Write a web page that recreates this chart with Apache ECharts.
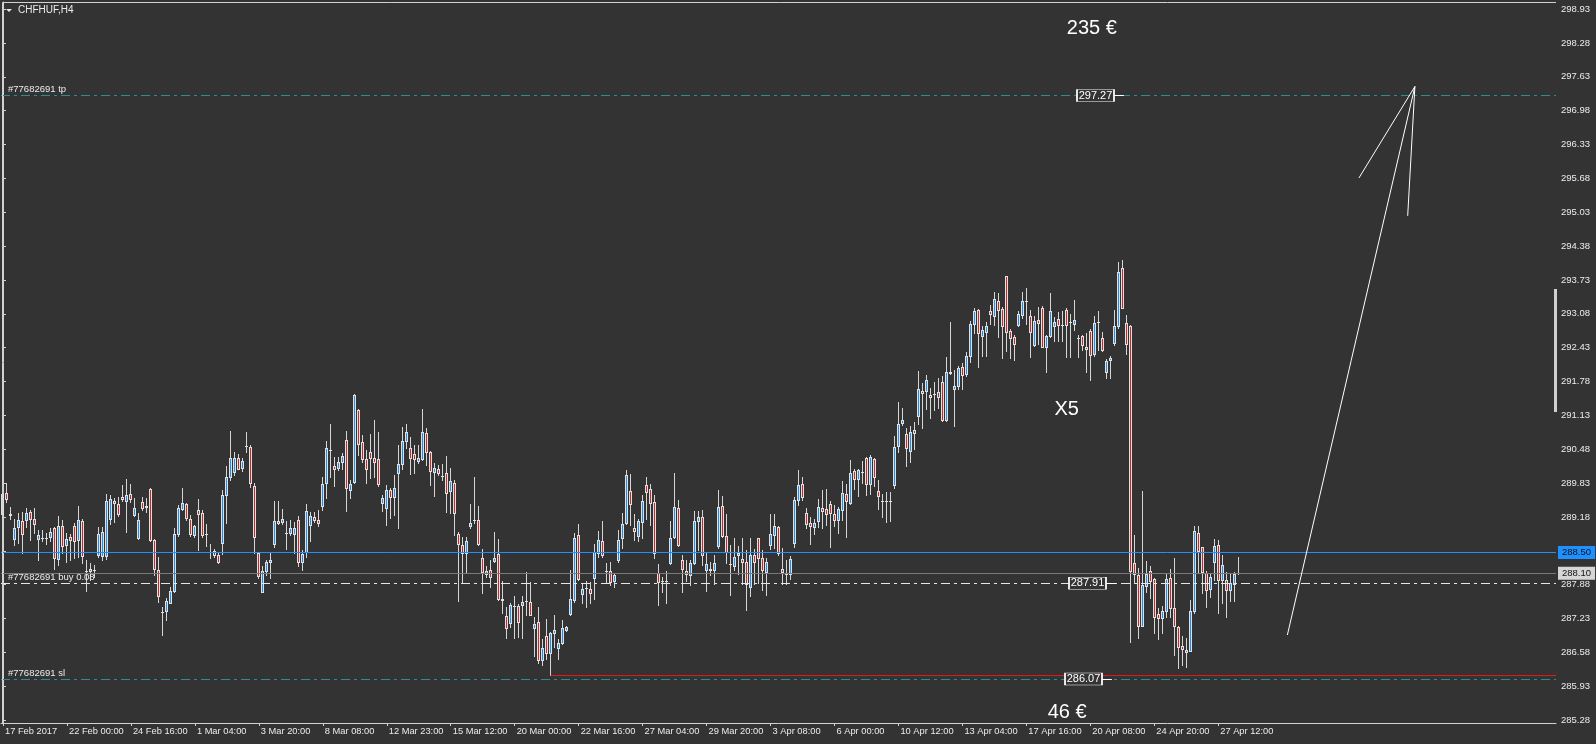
<!DOCTYPE html>
<html>
<head>
<meta charset="utf-8">
<script src="https://cdn.jsdelivr.net/npm/echarts@6/dist/echarts.min.js"></script>
<style>
html,body{margin:0;padding:0;background:#333333;overflow:hidden;}
#c{width:1596px;height:744px;}
</style>
</head>
<body>
<div id="c"></div>
<script>
// ---------------- DATA ----------------
const symbolName = 'CHFHUF,H4';
const tickLabels = ["17 Feb 2017","22 Feb 00:00","24 Feb 16:00","1 Mar 04:00","3 Mar 20:00","8 Mar 08:00","12 Mar 23:00","15 Mar 12:00","20 Mar 00:00","22 Mar 16:00","27 Mar 04:00","29 Mar 20:00","3 Apr 08:00","6 Apr 00:00","10 Apr 12:00","13 Apr 04:00","17 Apr 16:00","20 Apr 08:00","24 Apr 20:00","27 Apr 12:00"];
const barsPerLabel = 16;
const priceTicks = [285.28,285.93,286.58,287.23,287.88,289.18,289.83,290.48,291.13,291.78,292.43,293.08,293.73,294.38,295.03,295.68,296.33,296.98,297.63,298.28,298.93];
const hiddenPriceTicks = [288.53];
// H4 bars: [open, high, low, close]
const ohlc = [
[289.24,289.73,289.15,289.63],[289.65,289.83,289.47,289.52],[289.22,289.37,289.15,289.23],[288.75,289.15,288.64,288.96],
[288.98,289.25,288.69,289.12],[289.11,289.28,288.48,288.85],[289.13,289.35,288.99,289.25],[289.27,289.31,288.74,289.15],
[289.15,289.35,288.87,289.04],[288.75,288.94,288.35,288.83],[288.77,288.94,288.71,288.77],[288.77,288.87,288.67,288.78],
[288.79,288.96,288.71,288.90],[288.96,288.99,288.19,288.40],[288.37,289.19,288.26,289.01],[289.00,289.12,288.48,288.62],
[288.65,288.87,288.32,288.76],[288.80,288.85,288.35,288.73],[289.01,289.06,288.39,288.71],[288.74,289.39,288.42,289.13],
[289.11,289.15,288.30,288.43],[288.15,288.35,287.76,288.15],[288.15,288.30,287.97,288.19],[288.16,288.26,288.03,288.17],
[288.46,288.99,288.42,288.85],[288.43,288.99,288.35,288.89],[288.43,289.63,288.37,289.49],[289.15,289.60,289.04,289.52],
[289.49,289.54,289.09,289.44],[289.42,289.56,289.19,289.23],[289.56,289.79,289.49,289.52],[289.49,289.90,288.90,289.61],
[289.63,289.81,289.47,289.52],[289.22,289.54,289.19,289.35],[288.77,289.25,288.75,289.13],[289.47,289.57,289.31,289.35],
[289.37,289.54,289.28,289.40],[289.71,289.73,288.71,288.73],[288.73,288.75,288.07,288.19],[288.17,288.42,287.55,287.66],
[287.36,287.46,286.91,287.36],[287.37,287.62,287.21,287.57],[287.53,287.84,287.52,287.76],[287.76,288.96,287.75,288.85],
[288.85,289.41,288.81,289.35],[289.33,289.73,289.31,289.44],[289.42,289.44,289.13,289.17],[289.15,289.22,288.81,288.86],
[288.83,289.03,288.80,289.01],[289.31,289.52,288.55,289.23],[289.25,289.31,288.80,288.83],[288.85,289.04,288.62,288.85],
[288.51,288.66,288.39,288.51],[288.53,288.56,288.42,288.46],[288.45,288.48,288.30,288.32],[288.69,289.70,288.47,289.61],
[289.61,290.15,289.06,289.94],[289.95,290.83,289.89,290.32],[290.04,290.43,289.99,290.31],[290.31,290.39,290.10,290.11],
[290.13,290.31,290.07,290.25],[290.54,290.81,290.43,290.54],[290.52,290.56,289.76,289.83],[289.77,289.83,288.48,288.79],
[288.48,288.49,288.00,288.05],[287.75,288.23,287.75,288.15],[288.15,288.35,288.07,288.31],[288.31,288.50,288.00,288.35],
[288.67,289.49,288.61,289.10],[289.10,289.49,289.04,289.06],[289.08,289.33,289.04,289.15],[288.88,289.11,288.56,288.88],
[288.88,289.12,288.83,288.96],[288.85,289.09,288.48,288.96],[289.13,289.19,288.23,288.32],[288.32,288.55,288.17,288.47],
[288.51,289.43,288.42,289.30],[289.02,289.28,288.71,289.20],[289.18,289.27,289.09,289.12],[289.13,289.31,289.01,289.06],
[289.40,289.94,289.31,289.81],[289.83,290.63,289.54,290.50],[290.47,290.96,289.95,290.46],[290.16,290.34,289.77,290.11],
[290.13,290.34,290.08,290.24],[290.24,290.40,290.11,290.36],[290.65,290.83,289.30,289.73],[289.70,289.89,289.54,289.81],
[289.86,291.54,289.84,291.53],[291.23,291.25,290.37,290.59],[290.61,290.75,290.24,290.30],[290.29,290.47,289.84,290.11],
[290.42,290.77,289.92,290.32],[290.32,291.04,289.95,290.24],[290.29,290.81,289.77,289.81],[289.44,289.60,289.30,289.55],
[289.36,289.79,289.03,289.70],[289.70,289.73,289.17,289.56],[289.57,289.99,289.22,289.73],[290.02,290.56,288.96,290.19],
[290.20,290.91,290.11,290.64],[290.64,290.96,290.50,290.81],[290.50,290.72,290.00,290.32],[290.39,290.56,290.03,290.29],
[290.26,290.56,290.21,290.31],[290.29,291.25,290.27,290.81],[290.79,290.89,290.18,290.42],[290.42,290.45,289.79,290.07],
[290.05,290.22,289.58,290.13],[290.11,290.18,289.99,290.02],[289.97,290.20,289.89,289.97],[290.02,290.35,289.28,289.65],
[289.67,290.13,289.25,289.87],[289.84,289.89,288.83,289.25],[288.85,288.90,287.57,288.67],[288.65,288.80,287.92,288.49],
[288.48,288.80,288.11,288.71],[289.00,289.43,288.96,289.07],[289.12,289.94,289.07,289.12],[289.13,289.39,288.64,288.67],
[288.39,288.56,287.73,288.13],[288.08,288.23,288.03,288.14],[288.16,288.35,287.83,288.03],[288.34,288.89,288.32,288.40],
[288.47,288.75,287.59,287.60],[287.60,287.95,287.33,287.59],[287.28,287.46,286.85,287.04],[287.15,287.52,287.07,287.50],
[287.48,287.66,286.85,287.47],[287.47,287.51,286.88,287.16],[287.50,287.66,286.85,287.55],[287.57,288.13,287.30,287.57],
[287.54,287.94,287.29,287.30],[287.04,287.27,286.51,287.12],[287.16,287.46,286.37,286.43],[286.43,286.83,286.34,286.66],
[286.90,287.23,286.45,286.56],[286.56,286.97,286.14,286.96],[286.96,287.30,286.69,287.01],[286.67,286.83,286.46,286.77],
[286.77,287.21,286.75,287.04],[287.02,287.09,286.99,287.07],[287.31,288.16,287.29,287.60],[287.59,288.88,287.55,288.77],
[288.83,289.04,287.97,287.99],[287.71,287.91,287.52,287.80],[287.81,287.95,287.46,287.81],[287.80,287.94,287.53,287.73],
[288.00,288.67,287.61,288.50],[288.48,288.91,288.42,288.74],[288.71,289.10,288.42,288.45],[288.14,288.30,287.92,288.14],
[288.14,288.32,287.87,287.94],[287.95,288.09,287.84,288.06],[288.35,288.94,288.32,288.73],[288.77,289.25,288.59,289.05],
[289.07,290.08,289.05,289.98],[289.68,290.01,289.02,289.42],[288.96,289.23,288.73,288.91],[288.81,289.15,288.72,289.10],
[289.09,289.60,288.78,289.48],[289.80,289.94,289.15,289.66],[289.71,289.81,289.02,289.44],[289.46,289.60,288.40,288.48],
[288.11,288.27,287.50,287.93],[287.95,288.03,287.74,287.95],[287.95,288.14,287.53,287.95],[288.29,289.10,288.27,288.77],
[288.79,290.03,288.77,289.37],[289.36,289.50,288.62,288.64],[288.36,288.45,287.74,288.19],[288.14,288.36,287.95,288.09],
[288.07,288.35,287.87,288.30],[288.29,289.30,288.27,289.10],[289.10,289.30,288.54,289.18],[289.18,289.31,288.25,288.46],
[288.16,288.49,287.76,288.27],[288.19,288.32,288.06,288.16],[288.16,288.46,287.90,288.30],[288.62,289.69,288.59,289.37],
[289.39,289.58,288.80,288.81],[288.82,289.23,288.29,288.51],[288.27,288.65,287.69,288.27],[288.24,288.77,288.16,288.41],
[288.45,288.62,288.09,288.49],[288.38,288.77,287.90,288.32],[288.32,288.54,287.39,287.90],[287.83,288.77,287.66,288.45],
[288.45,288.56,287.90,288.32],[288.77,288.77,287.92,288.40],[288.40,288.54,287.77,288.17],[288.13,288.40,287.69,288.32],
[288.65,289.23,288.57,288.86],[288.84,289.23,288.59,289.01],[288.99,289.00,288.46,288.48],[288.19,288.59,287.89,288.13],
[288.08,288.36,287.90,288.08],[288.08,288.43,287.99,288.38],[288.68,289.57,288.61,289.50],[289.50,290.08,289.41,289.80],
[289.82,289.95,289.50,289.57],[289.25,289.36,288.96,289.04],[289.07,289.18,288.66,289.01],[288.99,289.15,288.85,289.07],
[289.11,289.53,288.99,289.37],[289.36,289.69,288.97,289.30],[289.34,289.71,289.02,289.23],[289.42,289.49,288.61,289.25],
[289.23,289.41,289.01,289.13],[289.13,289.37,288.88,289.34],[289.32,289.87,289.12,289.65],[289.63,289.81,288.80,289.49],
[289.45,290.27,289.43,290.03],[290.06,290.10,289.71,289.90],[289.90,290.11,289.59,290.08],[290.05,290.25,289.83,290.05],
[290.32,290.33,289.60,289.82],[289.81,290.37,289.63,290.33],[290.30,290.32,289.78,289.95],[289.68,289.89,289.34,289.59],
[289.49,289.63,289.18,289.49],[289.49,289.66,289.09,289.49],[289.48,289.66,289.11,289.48],[289.80,290.73,289.73,290.53],
[290.55,291.38,290.43,290.96],[290.99,291.28,290.95,291.05],[290.77,290.88,290.16,290.51],[290.44,290.92,290.23,290.81],
[290.85,291.00,290.48,290.80],[291.11,291.99,290.97,291.63],[291.60,291.75,290.89,291.56],[291.59,291.91,291.25,291.81],
[291.53,291.65,291.08,291.48],[291.55,291.77,291.24,291.55],[291.58,291.85,291.27,291.49],[291.77,291.88,291.03,291.05],
[291.05,292.25,291.03,291.96],[291.94,292.93,291.93,291.97],[291.63,292.01,290.92,291.69],[291.69,292.07,291.63,292.04],
[292.06,292.13,291.63,291.91],[291.92,292.34,291.89,292.27],[292.27,292.95,292.15,292.89],[292.89,293.20,292.71,293.13],
[293.16,293.17,292.06,292.71],[292.65,292.85,292.27,292.76],[292.74,292.93,292.27,292.85],[293.14,293.25,292.89,293.08],
[293.03,293.49,292.87,293.36],[293.33,293.48,292.63,293.16],[293.17,293.21,292.24,292.84],[293.81,293.81,292.36,292.74],
[292.75,292.79,292.23,292.61],[292.63,292.68,292.19,292.50],[292.86,293.13,292.85,293.07],[293.06,293.50,293.00,293.33],
[293.32,293.57,292.89,293.32],[293.03,293.15,292.25,292.74],[292.49,293.04,292.47,292.95],[292.97,293.22,292.50,292.90],
[293.19,293.23,292.44,292.45],[292.45,292.68,291.97,292.66],[292.66,293.48,292.63,293.14],[292.84,293.01,292.55,292.92],
[292.98,293.11,292.55,292.87],[292.87,293.13,292.55,292.87],[293.16,293.19,292.26,292.87],[292.93,293.08,292.26,292.93],
[292.88,293.35,292.77,292.97],[292.61,292.68,292.26,292.61],[292.65,292.68,292.39,292.49],[292.45,292.71,291.97,292.41],
[292.75,292.79,291.81,292.29],[292.31,293.03,292.27,292.90],[292.92,293.13,292.39,292.92],[292.61,292.74,292.36,292.39],
[291.97,292.21,291.85,292.18],[292.19,292.27,291.85,292.23],[292.52,293.16,292.49,292.85],[292.85,294.07,292.81,293.88],
[293.96,294.12,293.19,293.20],[292.91,293.06,292.31,292.50],[292.85,292.87,286.79,288.15],[288.29,288.84,287.91,288.08],
[288.07,288.20,286.85,287.08],[287.09,289.68,287.08,287.88],[287.85,288.33,287.75,288.09],[288.15,288.23,287.62,287.96],
[287.99,288.01,286.95,287.27],[287.32,287.44,286.83,287.25],[287.25,287.48,286.95,287.38],[287.37,288.11,287.27,287.99],
[288.01,288.18,287.27,287.43],[287.43,288.39,286.53,287.08],[287.06,287.08,286.28,286.68],[286.71,286.89,286.34,286.64],
[286.59,286.85,286.31,286.63],[286.61,287.59,286.60,287.38],[287.38,289.00,287.33,288.91],[288.88,289.00,288.13,288.52],
[288.60,288.61,287.72,288.13],[288.10,288.15,287.46,287.78],[287.79,288.10,287.65,288.03],[288.31,288.75,287.97,288.63],
[288.65,288.74,287.33,287.97],[287.97,288.45,287.52,288.26],[287.97,288.13,287.27,287.78],[287.78,288.10,287.56,287.92],
[287.89,288.13,287.56,288.08],[288.10,288.42,288.09,288.10]
];
// trade / object levels (prices)
const tpPrice = 297.27;
const buyPrice = 287.91;
const slPrice = 286.07;
const bluePrice = 288.50;
const bidPrice = 288.10;
const redLinePrice = 286.14;
const redLineStartBar = 137;
// hand-drawn arrow (bar index, price)
const arrowShaft = [[321.3, 286.915], [353.2, 297.443]];
const arrowHeadL = [[339.2, 295.687], [353.2, 297.443]];
const arrowHeadR = [[353.2, 297.443], [351.4, 294.961]];
// text objects (bar index, price, text)
const textObjects = [[272.4, 298.556, '235 €'], [266.1, 291.243, 'X5'], [266.2, 285.437, '46 €']];
// order tags (bar index, price)
const orderTags = [[273.3, tpPrice], [271.3, buyPrice], [270.3, slPrice]];

// ---------------- STYLE ----------------
const BG = '#333333';
const FRAME = '#d2d2d2';
const TEXT = '#ececec';
const WICK = '#d6d6d6';
const OUTLINE = '#e0e0e0';
const BULL = '#1e8ff0';
const BEAR = '#c42a2a';
const TEAL = '#2f8c8c';
const FONT = "'Liberation Sans', Arial, sans-serif";
const DASHDOT = [9, 4, 3, 4];
const TOTAL_SLOTS = 389;
const Y_MIN = 285.226, Y_MAX = 299.065;

const categories = Array.from({length: TOTAL_SLOTS}, (_, i) => String(i));
const candleData = ohlc.map((r, i) => [i, r[0], Math.max(r[0], r[1], r[3]), Math.min(r[0], r[2], r[3]), r[3]]);

function renderCandle(params, api) {
  const i = api.value(0), o = api.value(1), h = api.value(2), l = api.value(3), c = api.value(4);
  const pO = api.coord([i, o]), pC = api.coord([i, c]);
  const pH = api.coord([i, h]), pL = api.coord([i, l]);
  const x = Math.round(pO[0] - 0.5);
  const yH = Math.round(pH[1]), yL = Math.round(pL[1]);
  const yT = Math.round(Math.min(pO[1], pC[1])), yB = Math.round(Math.max(pO[1], pC[1]));
  const kids = [
    {type: 'rect', shape: {x: x, y: yH, width: 1, height: Math.max(1, yL - yH + 1)}, style: {fill: WICK}},
    {type: 'rect', shape: {x: x - 1, y: yT, width: 3, height: Math.max(1, yB - yT + 1)}, style: {fill: OUTLINE}}
  ];
  if (yB - yT >= 2) {
    kids.push({type: 'rect', shape: {x: x, y: yT + 1, width: 1, height: yB - yT - 1}, style: {fill: c > o ? BULL : BEAR}});
  }
  return {type: 'group', children: kids};
}

const levelLabel = (txt) => ({show: true, position: 'insideStartTop', formatter: txt, color: TEXT, fontSize: 9.5, fontFamily: FONT, distance: [7, 1]});
const axisBox = (txt, bg) => ({show: true, position: 'end', formatter: txt, color: '#111', backgroundColor: bg, fontSize: 9.5, fontFamily: FONT, padding: [2, 4, 1, 4], distance: 2});

const tagPoints = orderTags.map(t => ({
  coord: [t[0], t[1]], symbol: 'rect', symbolSize: [37, 12],
  itemStyle: {color: BG, borderColor: '#ffffff', borderWidth: 1},
  label: {show: true, position: 'inside', formatter: t[1].toFixed(2), color: '#ffffff', fontSize: 11, fontFamily: FONT}
}));
const textPoints = textObjects.map(t => ({
  coord: [t[0], t[1]], symbol: 'rect', symbolSize: 1, itemStyle: {color: 'rgba(0,0,0,0)'},
  label: {show: true, position: 'inside', formatter: t[2], color: '#ffffff', fontSize: 20, fontFamily: FONT}
}));
const tails = orderTags.map(t => [
  {coord: [t[0] + 4.6, t[1]], lineStyle: {color: '#ffffff', type: 'solid', width: 1}, label: {show: false}},
  {coord: [t[0] + 7.1, t[1]]}
]);

const chart = echarts.init(document.getElementById('c'), null, {renderer: 'canvas'});
chart.setOption({
  backgroundColor: BG,
  animation: false,
  grid: {left: 1, right: 40, top: 2, bottom: 21, show: false},
  xAxis: [{
    type: 'category', data: categories, boundaryGap: true,
    axisLine: {show: true, lineStyle: {color: FRAME, width: 1}},
    axisTick: {show: true, alignWithLabel: true, length: 3, lineStyle: {color: FRAME},
      interval: (idx) => idx % barsPerLabel === 0 && idx < ohlc.length},
    axisLabel: {show: true, interval: (idx) => idx % barsPerLabel === 0 && idx < ohlc.length,
      formatter: (v, idx) => tickLabels[Math.round(idx / barsPerLabel)] || '',
      align: 'left', margin: 4, color: TEXT, fontSize: 9.3, fontFamily: FONT, padding: [0, 0, 0, 2]},
    splitLine: {show: false}
  }, {
    type: 'value', min: -0.5, max: TOTAL_SLOTS - 0.5, show: false
  }],
  yAxis: {
    type: 'value', position: 'right', min: Y_MIN, max: Y_MAX, scale: true,
    axisLine: {show: true, lineStyle: {color: FRAME, width: 1}},
    axisTick: {show: true, length: 3, customValues: priceTicks.concat(hiddenPriceTicks), lineStyle: {color: FRAME}},
    axisLabel: {show: true, customValues: priceTicks, formatter: (v) => v.toFixed(2), color: TEXT, fontSize: 9.5, fontFamily: FONT, margin: 5},
    splitLine: {show: false}
  },
  graphic: [
    {type: 'line', shape: {x1: 2.5, y1: 2.5, x2: 1556, y2: 2.5}, style: {stroke: FRAME, lineWidth: 1}, silent: true, z: 100},
    {type: 'line', shape: {x1: 2.5, y1: 2.5, x2: 2.5, y2: 723}, style: {stroke: FRAME, lineWidth: 1}, silent: true, z: 100},
    {type: 'rect', shape: {x: 1554, y: 289, width: 3, height: 123}, style: {fill: '#d0d0d0'}, silent: true, z: 100},
    {type: 'polygon', shape: {points: [[6, 9], [12, 9], [9, 12]]}, style: {fill: '#e8e8e8'}, silent: true, z: 100},
    {type: 'text', left: 18, top: 5, style: {text: symbolName, fill: TEXT, font: "10px " + FONT}, silent: true, z: 100}
  ],
  series: [
    {
      type: 'custom', name: 'CHFHUF', xAxisIndex: 0, yAxisIndex: 0,
      renderItem: renderCandle, data: candleData, clip: true,
      encode: {x: 0, y: [1, 2, 3, 4]}, z: 2
    },
    {
      type: 'line', xAxisIndex: 1, yAxisIndex: 0, data: arrowShaft, symbol: 'none',
      lineStyle: {color: '#ffffff', width: 1}, z: 5, silent: true,
      markLine: {
        silent: true, symbol: ['none', 'none'], animation: false, z: 4,
        data: [
          {yAxis: tpPrice, lineStyle: {color: TEAL, type: DASHDOT, width: 1}, label: levelLabel('#77682691 tp')},
          {yAxis: buyPrice, lineStyle: {color: '#e6e6e6', type: DASHDOT, width: 1}, label: levelLabel('#77682691 buy 0.08')},
          {yAxis: slPrice, lineStyle: {color: TEAL, type: DASHDOT, width: 1}, label: levelLabel('#77682691 sl')},
          {yAxis: bluePrice, lineStyle: {color: '#1e90ff', type: 'solid', width: 1}, label: axisBox(bluePrice.toFixed(2), '#1e90ff')},
          {yAxis: bidPrice, lineStyle: {color: '#7a7a7a', type: 'solid', width: 1}, label: axisBox(bidPrice.toFixed(2), '#d6d6d6')},
          [{coord: [redLineStartBar, redLinePrice], lineStyle: {color: '#e01818', type: 'solid', width: 1}, label: {show: false}},
           {coord: [TOTAL_SLOTS - 0.5, redLinePrice]}]
        ].concat(tails)
      },
      markPoint: {
        silent: true, animation: false, z: 6,
        data: tagPoints.concat(textPoints)
      }
    },
    {type: 'line', xAxisIndex: 1, yAxisIndex: 0, data: arrowHeadL, symbol: 'none', lineStyle: {color: '#ffffff', width: 1}, z: 5, silent: true},
    {type: 'line', xAxisIndex: 1, yAxisIndex: 0, data: arrowHeadR, symbol: 'none', lineStyle: {color: '#ffffff', width: 1}, z: 5, silent: true}
  ]
});
</script>
</body>
</html>
